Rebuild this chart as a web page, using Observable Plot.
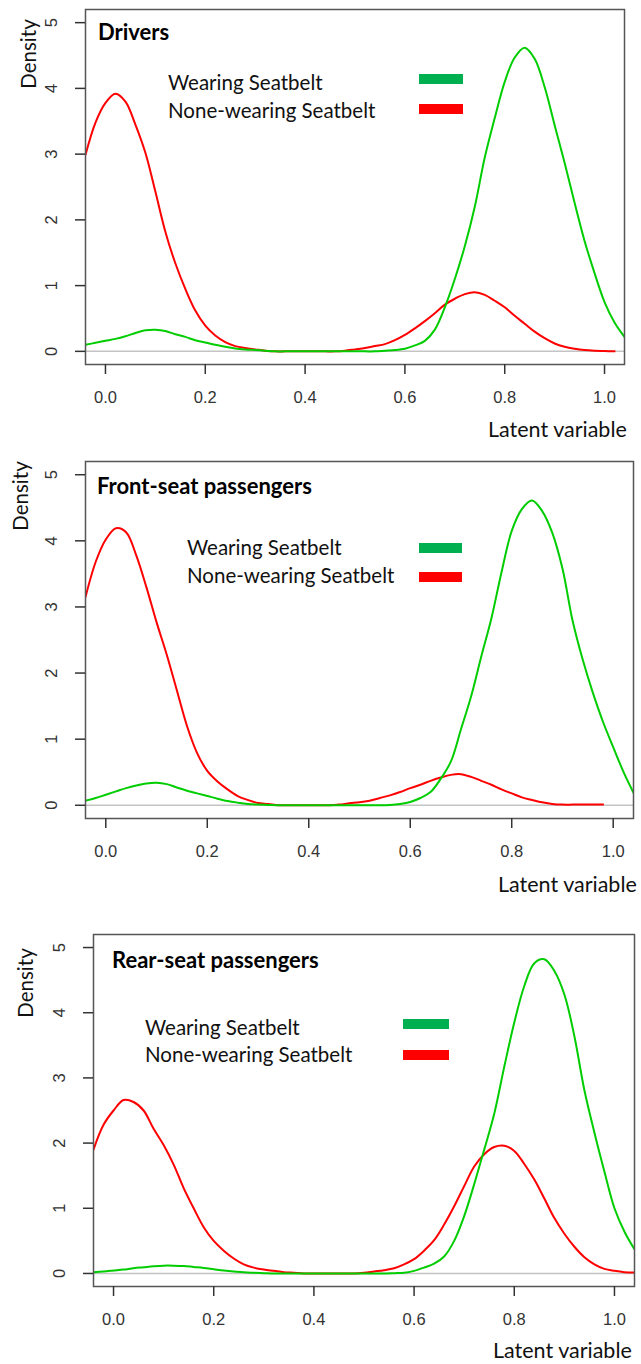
<!DOCTYPE html>
<html>
<head>
<meta charset="utf-8">
<script src="https://cdn.jsdelivr.net/npm/d3@7"></script>
<script src="https://cdn.jsdelivr.net/npm/@observablehq/plot@0.6"></script>
<style>
  body { margin: 0; background: #fff; }
  #wrap { position: relative; width: 641px; height: 1364px; overflow: hidden; background: #fff; }
  #wrap svg { position: absolute; left: 0; }
  .t { position: absolute; font-family: Lato, "Open Sans", sans-serif; font-size: 20.5px; color: #111; white-space: nowrap; line-height: 1; transform: translateY(-50%); }
  .b { font-weight: bold; color: #000; font-size: 22px; }
  .lat { font-size: 21.5px; }
  .rot { transform: translate(-50%, -50%) rotate(-90deg); font-size: 20.5px; }
  .sw { position: absolute; }
</style>
</head>
<body>
<div id="wrap"></div>
<script>
// ---- data ----
const latent = [-0.04,-0.02,0.00,0.02,0.04,0.06,0.08,0.10,0.12,0.14,0.16,0.18,0.20,0.22,0.24,0.26,0.28,0.30,0.32,0.34,0.36,0.38,0.40,0.42,0.44,0.46,0.48,0.50,0.52,0.54,0.56,0.58,0.60,0.62,0.64,0.66,0.68,0.70,0.72,0.74,0.76,0.78,0.80,0.82,0.84,0.86,0.88,0.90,0.92,0.94,0.96,0.98,1.00,1.02,1.04];

const driversNone = [2.99,3.48,3.78,3.92,3.80,3.45,3.02,2.43,1.82,1.34,0.95,0.62,0.39,0.24,0.14,0.08,0.05,0.03,0.01,0,0,0,0,0,0,0,0.01,0.03,0.05,0.08,0.11,0.17,0.25,0.35,0.46,0.58,0.71,0.80,0.87,0.90,0.86,0.77,0.67,0.54,0.42,0.30,0.20,0.12,0.07,0.04,0.02,0.01,0.005,0,null];
const driversWear = [0.10,0.13,0.16,0.19,0.23,0.28,0.32,0.33,0.31,0.26,0.22,0.17,0.135,0.10,0.07,0.045,0.03,0.02,0.01,0,0,0,0,0,0,0,0,0,0,0,0.01,0.02,0.04,0.09,0.16,0.33,0.67,1.10,1.60,2.20,2.95,3.55,4.10,4.47,4.62,4.45,4.02,3.44,2.87,2.26,1.68,1.19,0.75,0.44,0.22];

const frontNone = [3.15,3.68,4.02,4.19,4.13,3.78,3.30,2.77,2.28,1.74,1.20,0.79,0.52,0.36,0.24,0.14,0.08,0.035,0.02,0,0,0,0,0,0,0.01,0.03,0.045,0.07,0.11,0.15,0.20,0.26,0.31,0.37,0.42,0.46,0.47,0.43,0.37,0.31,0.24,0.18,0.12,0.08,0.045,0.02,0.01,0.01,0.01,0.01,0.01,null,null,null];
const frontWear = [0.07,0.11,0.16,0.21,0.26,0.30,0.33,0.34,0.32,0.27,0.22,0.18,0.14,0.10,0.065,0.04,0.02,0.01,0.005,0,0,0,0,0,0,0,0,0,0,0,0.005,0.02,0.05,0.11,0.20,0.40,0.66,1.15,1.65,2.25,2.83,3.53,4.15,4.48,4.61,4.45,4.12,3.58,2.79,2.20,1.70,1.26,0.88,0.51,0.19];

const rearNone = [1.90,2.28,2.50,2.66,2.63,2.50,2.22,1.97,1.67,1.31,1.00,0.71,0.50,0.35,0.23,0.14,0.09,0.06,0.04,0.02,0.01,0,0,0,0,0,0,0.01,0.03,0.05,0.08,0.14,0.22,0.35,0.51,0.75,1.03,1.34,1.64,1.83,1.94,1.96,1.88,1.68,1.44,1.15,0.85,0.61,0.41,0.25,0.14,0.07,0.04,0.02,0.015];
const rearWear = [0.02,0.03,0.045,0.06,0.08,0.095,0.11,0.12,0.12,0.115,0.10,0.085,0.065,0.045,0.03,0.02,0.01,0.005,0,0,0,0,0,0,0,0,0,0,0,0,0.005,0.01,0.04,0.09,0.15,0.26,0.50,0.88,1.37,1.90,2.45,3.17,3.85,4.41,4.76,4.82,4.64,4.28,3.64,2.81,2.16,1.56,1.00,0.64,0.37];

const panelTitles = ["Drivers", "Front-seat passengers", "Rear-seat passengers"];
const seriesNames = ["Wearing Seatbelt", "None-wearing Seatbelt"];
const xTicks = [0, 0.2, 0.4, 0.6, 0.8, 1.0];
const yTicks = [0, 1, 2, 3, 4, 5];
const xLabel = "Latent variable";
const yLabel = "Density";

// ---- layout ----
const panels = [
  { title: panelTitles[0], wear: driversWear, none: driversNone,
    top: 0, height: 440, mL: 85, mR: 17, mT: 9, mB: 76,
    titleX: 98, titleY: 32, densX: 28, densY: 54, latX: 488, latY: 430,
    legX: 168, legY: [82, 110], swX: 419, swW: 44, swY: [74, 104] },
  { title: panelTitles[1], wear: frontWear, none: frontNone,
    top: 440, height: 450, mL: 85, mR: 8, mT: 21, mB: 72,
    titleX: 97, titleY: 486, densX: 20, densY: 496, latX: 498, latY: 885,
    legX: 187, legY: [547, 575], swX: 419, swW: 43, swY: [543, 572] },
  { title: panelTitles[2], wear: rearWear, none: rearNone,
    top: 890, height: 474, mL: 93, mR: 7, mT: 44, mB: 78,
    titleX: 112, titleY: 960, densX: 25, densY: 983, latX: 493, latY: 1351,
    legX: 145, legY: [1027, 1054], swX: 403, swW: 46, swY: [1019, 1050] }
];

const wrap = document.getElementById("wrap");
const rows = (arr) => latent.map((x, i) => ({ x, d: arr[i] })).filter(r => r.d != null);

function addDiv(cls, text, left, top) {
  const el = document.createElement("div");
  el.className = cls;
  el.textContent = text;
  el.style.left = left + "px";
  el.style.top = top + "px";
  wrap.appendChild(el);
  return el;
}

for (const p of panels) {
  const svg = Plot.plot({
    width: 641,
    height: p.height,
    marginLeft: p.mL, marginRight: p.mR, marginTop: p.mT, marginBottom: p.mB,
    style: { fontFamily: "'Liberation Sans', Arial, sans-serif", fontSize: "16.5px", background: "transparent" },
    x: { domain: [-0.04, 1.04] },
    y: { domain: [-0.2, 5.2] },
    marks: [
      Plot.ruleY([0], { stroke: "#c4c4c4", strokeWidth: 1.5 }),
      Plot.line(rows(p.none), { x: "x", y: "d", stroke: "#ff0000", strokeWidth: 2, curve: "catmull-rom", clip: true }),
      Plot.line(rows(p.wear), { x: "x", y: "d", stroke: "#00cd00", strokeWidth: 2, curve: "catmull-rom", clip: true }),
      Plot.frame({ stroke: "#555", strokeWidth: 1.5 }),
      Plot.axisX({ ticks: xTicks, tickSize: 10, tickPadding: 17, tickFormat: d3.format(".1f"), label: null, color: "#333", strokeWidth: 1.5 }),
      Plot.axisY({ ticks: yTicks, tickSize: 10, tickPadding: 19, tickRotate: -90, tickFormat: d3.format("d"), label: null, color: "#333", strokeWidth: 1.5 })
    ]
  });
  svg.style.top = p.top + "px";
  wrap.appendChild(svg);

  addDiv("t b", p.title, p.titleX, p.titleY);
  addDiv("t rot", yLabel, p.densX, p.densY);
  addDiv("t lat", xLabel, p.latX, p.latY);
  seriesNames.forEach((name, i) => {
    addDiv("t", name, p.legX, p.legY[i]);
    const sw = document.createElement("div");
    sw.className = "sw";
    Object.assign(sw.style, {
      left: p.swX + "px", top: p.swY[i] + "px", width: p.swW + "px", height: "10px",
      background: i === 0 ? "#00b050" : "#ff0000"
    });
    wrap.appendChild(sw);
  });
}
</script>
</body>
</html>
